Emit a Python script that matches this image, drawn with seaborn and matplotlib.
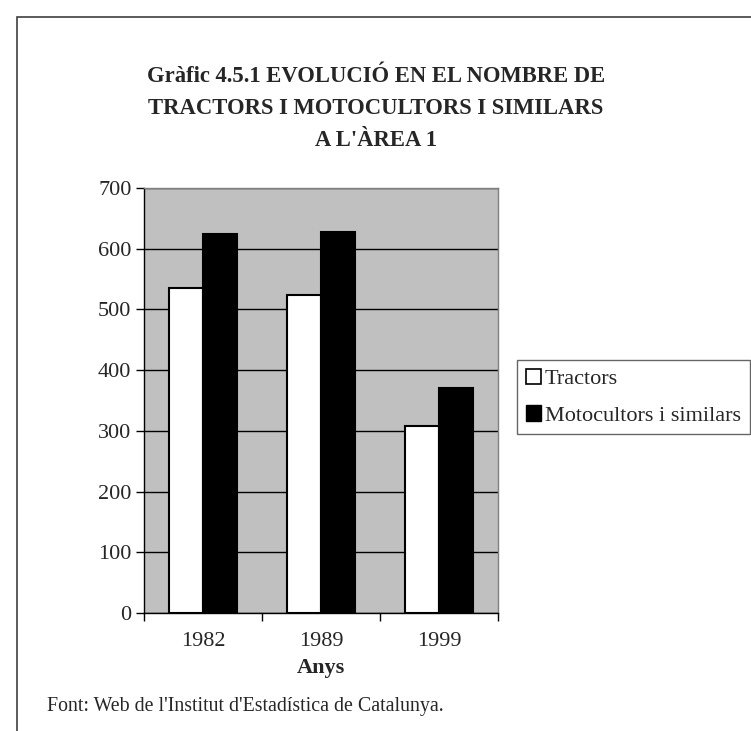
import pandas as pd
import matplotlib.pyplot as plt
import matplotlib.patches as mpatches
import seaborn as sns

# data
anys = ['1982', '1989', '1999']
tractors = [536, 523, 308]
motocultors = [625, 628, 371]
series = ['Tractors', 'Motocultors i similars']

df = pd.DataFrame({
    'any': anys * 2,
    'serie': [series[0]] * 3 + [series[1]] * 3,
    'valor': tractors + motocultors,
})

sns.set_theme(style="white")
plt.rcParams['font.family'] = ['Liberation Serif', 'DejaVu Serif']

W, H = 751, 731
fig = plt.figure(figsize=(W / 100, H / 100), dpi=100)
ax = fig.add_axes([144 / W, 1 - 613 / H, 354 / W, 425 / H])

sns.barplot(data=df, x='any', y='valor', hue='serie', hue_order=series,
            palette={series[0]: 'white', series[1]: 'black'},
            width=0.58, edgecolor='black', linewidth=1.5, ax=ax, legend=False)

ax.set_facecolor('#c0c0c0')
ax.set_ylim(0, 700)
ax.set_xlim(-0.5, 2.5)
ax.set_yticks(range(0, 701, 100))
ax.yaxis.grid(True, color='black', linewidth=1)
ax.set_axisbelow(True)
ax.tick_params(axis='y', labelsize=16, length=6, width=1, color='black',
               direction='out', left=True, pad=3)

ax.set_xticks([-0.5, 0.5, 1.5, 2.5])
ax.set_xticklabels([])
ax.set_xticks([0, 1, 2], minor=True)
ax.set_xticklabels(anys, minor=True)
ax.tick_params(axis='x', which='major', length=6, width=1, color='black',
               direction='out', bottom=True)
ax.tick_params(axis='x', which='minor', length=0, labelsize=16, pad=14)

ax.set_xlabel('Anys', fontsize=16, fontweight='bold', labelpad=5)
ax.set_ylabel('')
for side in ['top', 'right']:
    ax.spines[side].set_color('#808080')
    ax.spines[side].set_linewidth(1)
for side in ['left', 'bottom']:
    ax.spines[side].set_color('black')
    ax.spines[side].set_linewidth(1)

# legend
handles = [mpatches.Patch(facecolor='white', edgecolor='black', linewidth=1.2, label=series[0]),
           mpatches.Patch(facecolor='black', edgecolor='black', label=series[1])]
leg = fig.legend(handles=handles, loc='upper left',
                 bbox_to_anchor=(517 / W, 1 - 360 / H), fontsize=16,
                 frameon=True, fancybox=False, edgecolor='#404040',
                 handlelength=0.7, handleheight=0.7, handletextpad=0.15,
                 labelspacing=0.7, borderpad=0.4, borderaxespad=0)
leg.get_frame().set_linewidth(1)

# title
title = ["Gràfic 4.5.1 EVOLUCIÓ EN EL NOMBRE DE",
         "TRACTORS I MOTOCULTORS I SIMILARS",
         "A L'ÀREA 1"]
for i, line in enumerate(title):
    fig.text(376 / W, 1 - (76 + 32 * i) / H, line, ha='center', va='center',
             fontsize=16.3, fontweight='bold')

fig.text(47 / W, 1 - 706 / H, "Font: Web de l'Institut d'Estadística de Catalunya.",
         ha='left', va='center', fontsize=14.3)

# outer frame
fig.patches.append(mpatches.Rectangle((17 / W, -0.1), 1.2, 1 - 17 / H + 0.1,
                                      transform=fig.transFigure, fill=False,
                                      edgecolor='#404040', linewidth=1.2))

fig.savefig('out.png', dpi=100)
